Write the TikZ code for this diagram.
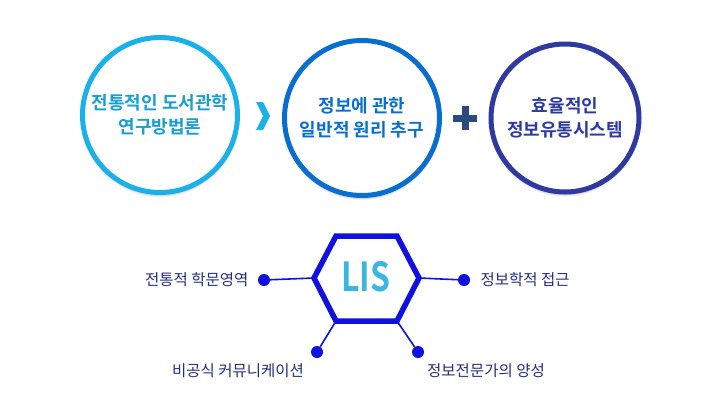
\documentclass[tikz,border=0pt]{standalone}
\usepackage{fontspec}
\setmainfont{Noto Sans CJK KR}[BoldFont={Noto Sans CJK KR Bold}]
\usetikzlibrary{shapes.geometric,shadows.blur}
\definecolor{c1}{HTML}{1AB0EA}
\definecolor{c2}{HTML}{0A6ED0}
\definecolor{c3}{HTML}{2E3AA0}
\definecolor{hx}{HTML}{1010E0}
\definecolor{li}{HTML}{3AB6E0}
\definecolor{pl}{HTML}{2A4A80}
\tikzset{
 ring/.style={circle,line width=5pt,fill=white,blur shadow={shadow blur steps=6,shadow xshift=0pt,shadow yshift=-3pt,shadow opacity=25},align=center,font=\bfseries\fontsize{18}{24}\selectfont,inner sep=0pt},
 dot/.style={circle,fill=hx,inner sep=0pt,minimum size=12pt},
 lbl/.style={font=\fontsize{15.5}{18}\selectfont,text=c3!80!black},
 link/.style={hx,line width=1.6pt}
}
\begin{document}
\begin{tikzpicture}[x=1pt,y=-1pt]
\useasboundingbox (0,0) rectangle (720,413);
\node[ring,draw=c1,text=c1!90!black,minimum size=155pt] (a) at (160,115) {전통적인 도서관학\\연구방법론};
\node[ring,draw=c2,text=c2,minimum size=155pt] (b) at (362,118) {정보에 관한\\일반적 원리 추구};
\node[ring,draw=c3,text=c3,minimum size=148pt] (c) at (565,118) {효율적인\\정보유통시스템};
\coordinate (chev) at (262,116);
\fill[c1] ($(chev)+(-6,-14)$) -- ($(chev)+(1,-14)$) -- ($(chev)+(8,0)$) -- ($(chev)+(1,14)$) -- ($(chev)+(-6,14)$) -- ($(chev)+(1,0)$) -- cycle;
\coordinate (plus) at (465,118);
\fill[pl] ($(plus)+(-3.5,-12)$) rectangle ($(plus)+(3.5,12)$);
\fill[pl] ($(plus)+(-12,-3.5)$) rectangle ($(plus)+(12,3.5)$);
% hexagon
\coordinate (L) at (314,278); \coordinate (R) at (419,278);
\coordinate (TL) at (336,236); \coordinate (TR) at (397,236);
\coordinate (BL) at (336,321); \coordinate (BR) at (397,321);
\node[dot] (d1) at (264,280) {};
\node[dot] (d2) at (464,280) {};
\node[dot] (d3) at (317,352) {};
\node[dot] (d4) at (418,352) {};
\draw[link] (d1) -- (L); \draw[link] (d2) -- (R);
\draw[link] (d3) -- (BL); \draw[link] (d4) -- (BR);
\draw[hx,line width=5.5pt,line join=miter,fill=white] (L)--(TL)--(TR)--(R)--(BR)--(BL)--cycle;
\node[text=li,font=\bfseries\fontsize{40}{40}\selectfont,xscale=0.8] (lis) at (366,277) {LIS};
\node[lbl,anchor=east] (t1) at (252,280) {전통적 학문영역};
\node[lbl,anchor=west] (t2) at (477,280) {정보학적 접근};
\node[lbl] (t3) at (238,371) {비공식 커뮤니케이션};
\node[lbl] (t4) at (486,371) {정보전문가의 양성};
\end{tikzpicture}
\end{document}
